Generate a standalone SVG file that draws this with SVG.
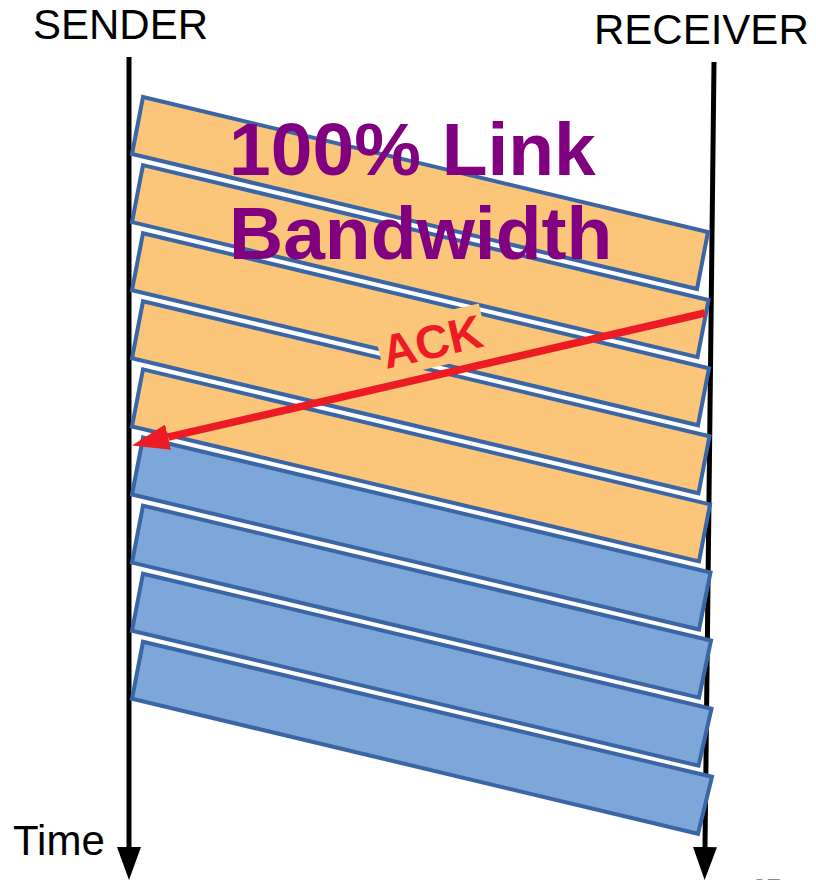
<svg xmlns="http://www.w3.org/2000/svg" width="816" height="880" viewBox="0 0 816 880">
  <style>
    text { font-family: "Liberation Sans", Arial, sans-serif; }
    .label { font-size: 42px; fill: #000; }
    .title { font-size: 75px; font-weight: bold; fill: #800080; }
    .ack { font-size: 47px; font-weight: bold; fill: #ED1C24; }
    .band { stroke: #3A66A6; stroke-width: 4; stroke-linejoin: miter; }
    .data { fill: #FBC57A; }
    .free { fill: #7CA7D8; }
    .timeline { stroke: #000; stroke-width: 5; fill: none; }
  </style>
  <defs>
    <marker id="timeHead" markerUnits="userSpaceOnUse" viewBox="0 0 33 24" markerWidth="33" markerHeight="24" refX="0" refY="12" orient="auto">
      <path d="M0,0 L33,12 L0,24 z" fill="#000"/>
    </marker>
    <marker id="ackHead" markerUnits="userSpaceOnUse" viewBox="0 0 37 26" markerWidth="37" markerHeight="26" refX="0" refY="13" orient="auto">
      <path d="M0,0 L37,13 L0,26 z" fill="#ED1C24"/>
    </marker>
  </defs>

  <rect width="816" height="880" fill="#fff"/>

  <!-- time axes -->
  <g id="timelines">
    <line class="timeline" x1="129" y1="57" x2="129" y2="847" marker-end="url(#timeHead)"/>
    <line class="timeline" x1="714" y1="62" x2="705" y2="847" marker-end="url(#timeHead)"/>
  </g>

  <!-- packets in flight: first five carry data, the rest follow -->
  <g id="packet-1"><polygon class="band data" points="143,97 708,232 697,289 132,154"/></g>
  <g id="packet-2"><polygon class="band data" points="143,165.1 708.5,300.1 697.5,357.1 132,222.1"/></g>
  <g id="packet-3"><polygon class="band data" points="143,233.2 709,368.2 698,425.2 132,290.2"/></g>
  <g id="packet-4"><polygon class="band data" points="143,301.3 709.5,436.3 698.5,493.3 132,358.3"/></g>
  <g id="packet-5"><polygon class="band data" points="143,369.4 710,504.4 699,561.4 132,426.4"/></g>
  <g id="packet-6"><polygon class="band free" points="143,437.5 710.5,572.5 699,629.5 132,494.5"/></g>
  <g id="packet-7"><polygon class="band free" points="143,505.6 711,640.6 699,697.6 132,562.6"/></g>
  <g id="packet-8"><polygon class="band free" points="143,573.7 711.5,708.7 698.5,765.7 132,630.7"/></g>
  <g id="packet-9"><polygon class="band free" points="143,641.8 712,776.8 698,833.8 132,698.8"/></g>

  <!-- headline -->
  <g id="headline">
    <text class="title" x="229" y="175">100% Link</text>
    <text class="title" x="229" y="259">Bandwidth</text>
  </g>

  <!-- acknowledgement travelling back -->
  <g id="ack-label-bg">
    <rect x="378" y="315" width="108" height="52" fill="#FBC57A" transform="rotate(-13 432 341)"/>
  </g>
  <g id="connectors">
    <line x1="705" y1="313" x2="168" y2="437.2" stroke="#ED1C24" stroke-width="7.5" marker-end="url(#ackHead)"/>
  </g>
  <g id="ack-label">
    <text class="ack" x="432" y="358" text-anchor="middle" transform="rotate(-13 432 341)">ACK</text>
  </g>

  <!-- axis labels -->
  <g id="sender"><text class="label" x="33" y="39">SENDER</text></g>
  <g id="receiver"><text class="label" x="594" y="44">RECEIVER</text></g>
  <g id="time"><text class="label" x="13" y="855">Time</text></g>
  <text x="752" y="897" style="font-size:26px" fill="#898989">27</text>
</svg>
